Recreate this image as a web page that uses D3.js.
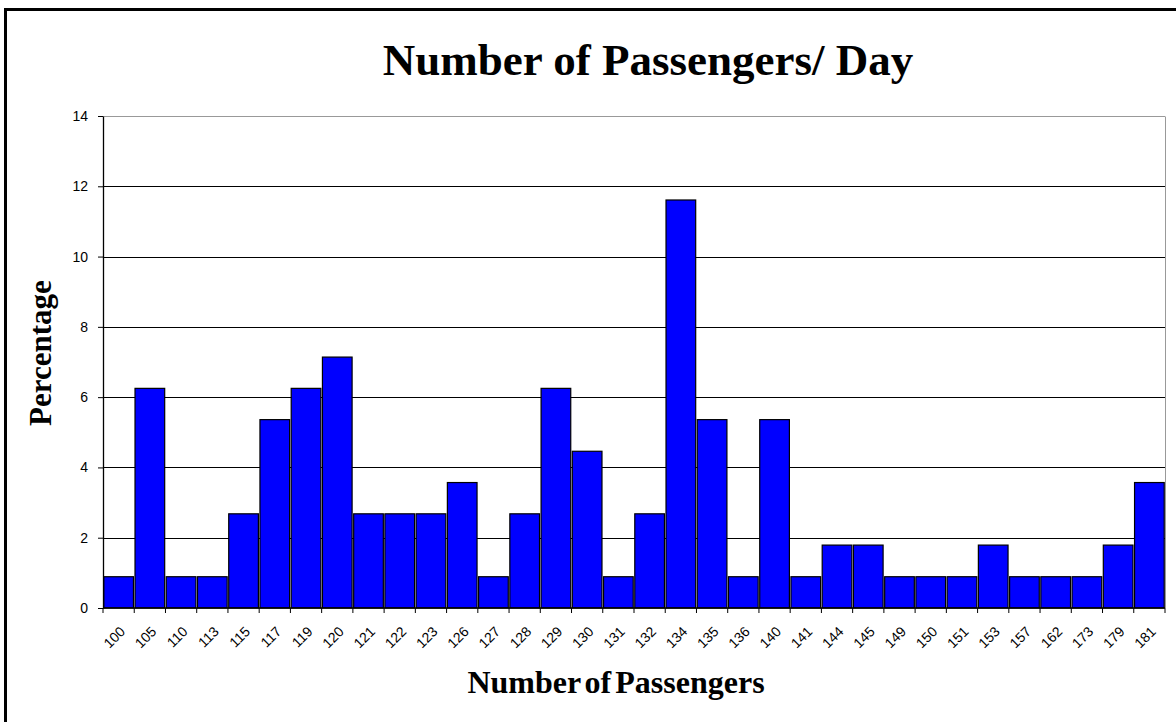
<!DOCTYPE html>
<html>
<head>
<meta charset="utf-8">
<script src="https://cdn.jsdelivr.net/npm/d3@7"></script>
<style>
  body { margin: 0; background: #fff; }
  .title { font-family: "Times New Roman", "Liberation Serif", serif; font-weight: bold; }
</style>
</head>
<body>
<div id="chart"></div>
<script>
// data
const passengers = ["100","105","110","113","115","117","119","120","121","122","123","126","127","128","129","130","131","132","134","135","136","140","141","144","145","149","150","151","153","157","162","173","179","181"]
const percentages = [0.89,6.25,0.89,0.89,2.68,5.36,6.25,7.14,2.68,2.68,2.68,3.57,0.89,2.68,6.25,4.46,0.89,2.68,11.61,5.36,0.89,5.36,0.89,1.79,1.79,0.89,0.89,0.89,1.79,0.89,0.89,0.89,1.79,3.57]
const yTicks = [0, 2, 4, 6, 8, 10, 12, 14]

const dataset = passengers.map((p, i) => ({ passengers: p, pct: percentages[i] }))

let dimensions = {
    width: 1176,
    height: 722,
    margin: { top: 116, right: 11, bottom: 114, left: 103 }
}
dimensions.boundedWidth = dimensions.width - dimensions.margin.left - dimensions.margin.right
dimensions.boundedHeight = dimensions.height - dimensions.margin.top - dimensions.margin.bottom

const wrapper = d3.select("#chart")
    .append("svg")
    .attr("width", dimensions.width)
    .attr("height", dimensions.height)

// outer frame, runs off the right and bottom
wrapper.append("rect")
    .attr("x", 5.5).attr("y", 9.5)
    .attr("width", 1200).attr("height", 800)
    .attr("fill", "none").attr("stroke", "#000").attr("stroke-width", 3)

const bounds = wrapper.append("g")
    .attr("transform", `translate(${dimensions.margin.left},${dimensions.margin.top})`)

const xScale = d3.scaleBand()
    .domain(passengers)
    .range([0, dimensions.boundedWidth])
    .paddingInner(0.05)
    .paddingOuter(0.025)

const yScale = d3.scaleLinear()
    .domain([0, 14])
    .range([dimensions.boundedHeight, 0])

// gridlines
bounds.selectAll("line.grid")
    .data(yTicks.slice(1))
    .join("line")
    .attr("class", "grid")
    .attr("x1", 0).attr("x2", dimensions.boundedWidth)
    .attr("y1", d => Math.round(yScale(d)) + 0.5)
    .attr("y2", d => Math.round(yScale(d)) + 0.5)
    .attr("stroke", d => d === 14 ? "#999" : "#000")

// right border of plot
bounds.append("line")
    .attr("x1", dimensions.boundedWidth + 0.5).attr("x2", dimensions.boundedWidth + 0.5)
    .attr("y1", Math.round(yScale(14)) + 0.5).attr("y2", dimensions.boundedHeight)
    .attr("stroke", "#999")

// bars
bounds.selectAll("rect.bar")
    .data(dataset)
    .join("rect")
    .attr("class", "bar")
    .attr("x", d => xScale(d.passengers))
    .attr("y", d => yScale(d.pct))
    .attr("width", xScale.bandwidth())
    .attr("height", d => yScale(0) - yScale(d.pct))
    .attr("fill", "#0000ff")
    .attr("stroke", "#000")
    .attr("stroke-width", 1.2)

// y axis
const yAxisGenerator = d3.axisLeft(yScale)
    .tickValues(yTicks)
    .tickSize(5)
    .tickPadding(10)
    .tickSizeOuter(0)

const yAxis = bounds.append("g").call(yAxisGenerator)
yAxis.select(".domain").attr("stroke", "#000").attr("stroke-width", 1.3)
yAxis.selectAll(".tick text")
    .style("font-family", "Arial, 'Liberation Sans', sans-serif")
    .style("font-size", "14px")

// x axis, ticks sit on band edges
const edges = d3.range(passengers.length + 1).map(i => i * dimensions.boundedWidth / passengers.length)

const xAxis = bounds.append("g")
    .attr("transform", `translate(0,${dimensions.boundedHeight})`)

xAxis.append("line")
    .attr("x1", 0).attr("x2", dimensions.boundedWidth)
    .attr("stroke", "#000").attr("stroke-width", 1.5)

xAxis.selectAll("line.xt")
    .data(edges)
    .join("line")
    .attr("class", "xt")
    .attr("x1", d => d).attr("x2", d => d)
    .attr("y1", 0).attr("y2", 5)
    .attr("stroke", "#000")

const xAxisGenerator = d3.axisBottom(xScale).tickSize(0).tickSizeOuter(0)
const xLabels = xAxis.append("g").call(xAxisGenerator)
xLabels.select(".domain").remove()
xLabels.selectAll(".tick text")
    .style("font-family", "Arial, 'Liberation Sans', sans-serif")
    .style("font-size", "14px")
    .attr("text-anchor", "end")
    .attr("transform", "translate(4,21) rotate(-45)")
    .attr("dy", "0.35em")
    .attr("y", 0)

// titles
wrapper.append("text")
    .attr("class", "title")
    .attr("x", 648).attr("y", 75)
    .attr("text-anchor", "middle")
    .attr("font-size", 45)
    .text("Number of Passengers/ Day")

wrapper.append("text")
    .attr("class", "title")
    .attr("x", 616).attr("y", 693)
    .attr("text-anchor", "middle")
    .attr("font-size", 32)
    .attr("word-spacing", -4)
    .text("Number of Passengers")

wrapper.append("text")
    .attr("class", "title")
    .attr("transform", "translate(51,353) rotate(-90)")
    .attr("text-anchor", "middle")
    .attr("font-size", 31)
    .text("Percentage")
</script>
</body>
</html>
